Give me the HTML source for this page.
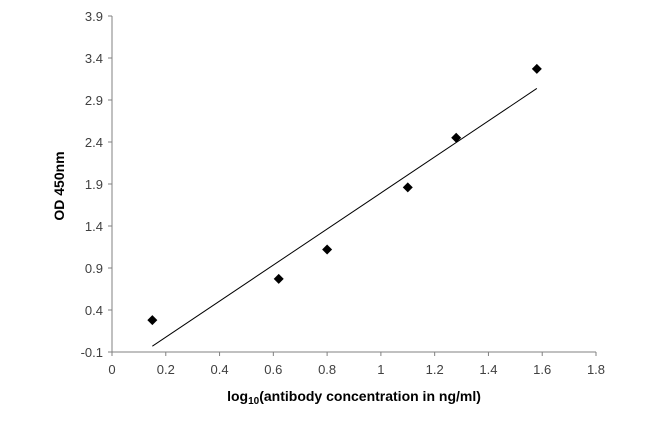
<!DOCTYPE html>
<html><head><meta charset="utf-8"><style>
body{margin:0;background:#fff;}
svg{display:block;font-family:"Liberation Sans",sans-serif;}
</style></head><body>
<svg id="chart" width="650" height="422"></svg>
<script>
const xTicks=[0,0.2,0.4,0.6,0.8,1,1.2,1.4,1.6,1.8];
const yTicks=[-0.1,0.4,0.9,1.4,1.9,2.4,2.9,3.4,3.9];
const xVals=[0.15,0.62,0.80,1.10,1.28,1.58];
const yVals=[0.28,0.77,1.12,1.86,2.45,3.27];
const NS="http://www.w3.org/2000/svg";
const svg=document.getElementById('chart');
const X0=112,X1=596,Y0=352,Y1=16;
const sx=v=>X0+(v-0)/(1.8-0)*(X1-X0);
const sy=v=>Y0-(v+0.1)/(4.0)*(Y0-Y1);
function mk(t,a,p){const e=document.createElementNS(NS,t);for(const k in a)e.setAttribute(k,a[k]);(p||svg).appendChild(e);return e;}
const yAxis=mk('line',{x1:X0,y1:Y1,x2:X0,y2:Y0,stroke:'#808080','stroke-width':1});


const xAxis=mk('line',{x1:X0,y1:Y0,x2:X1,y2:Y0,stroke:'#808080','stroke-width':1});


yTicks.forEach(v=>{
  const t=mk('line',{x1:X0-4,y1:sy(v),x2:X0,y2:sy(v),stroke:'#808080'});
  
  
  const l=mk('text',{x:X0-9,y:sy(v)+5,'text-anchor':'end','font-size':13,fill:'#404040'});
  l.textContent=v.toFixed(1);
  
  
});
xTicks.forEach(v=>{
  const t=mk('line',{x1:sx(v),y1:Y0,x2:sx(v),y2:Y0+4,stroke:'#808080'});
  
  
  const l=mk('text',{x:sx(v),y:Y0+22,'text-anchor':'middle','font-size':13,fill:'#404040'});
  l.textContent=String(v);
  
  
});
const n=xVals.length;
const mx=xVals.reduce((a,b)=>a+b,0)/n,my=yVals.reduce((a,b)=>a+b,0)/n;
let sxy=0,sxx=0;for(let i=0;i<n;i++){sxy+=(xVals[i]-mx)*(yVals[i]-my);sxx+=(xVals[i]-mx)**2;}
const m=sxy/sxx,b=my-m*mx;
const xs=Math.max(xVals[0],(-0.1-b)/m),xe=xVals[n-1];
const tl=mk('line',{x1:sx(xs),y1:sy(m*xs+b),x2:sx(xe),y2:sy(m*xe+b),stroke:'#000','stroke-width':1});


for(let i=0;i<n;i++){
  const cx=sx(xVals[i]),cy=sy(yVals[i]),r=5;
  const d=mk('polygon',{points:`${cx},${cy-r} ${cx+r},${cy} ${cx},${cy+r} ${cx-r},${cy}`,fill:'#000'});
  
  
}
const xl=mk('text',{x:354,y:401,'text-anchor':'middle','font-size':14,'font-weight':'bold',fill:'#000'});
xl.innerHTML='log<tspan font-size="10" dy="3">10</tspan><tspan dy="-3">(antibody concentration in ng/ml)</tspan>';


const yl=mk('text',{x:0,y:0,'text-anchor':'middle','font-size':14,'font-weight':'bold',fill:'#000',transform:'translate(64,186) rotate(-90)'});
yl.textContent='OD 450nm';


</script>
</body></html>
